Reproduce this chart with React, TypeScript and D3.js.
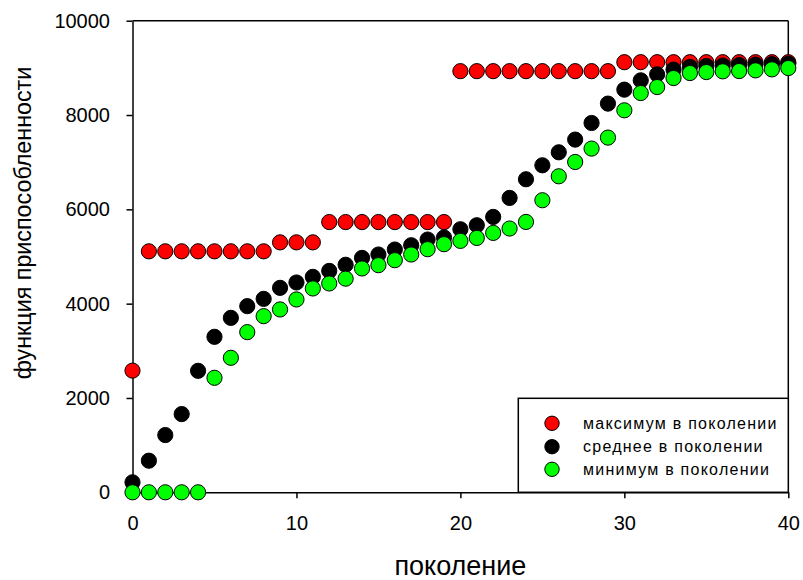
import * as d3 from 'd3'
import { useEffect, useRef } from 'react'

const generations = d3.range(0, 41)

const maxFitness = [
    2580, 5110, 5110, 5110, 5110, 5110, 5110, 5110, 5110, 5300,
    5300, 5300, 5730, 5730, 5730, 5730, 5730, 5730, 5730, 5730,
    8930, 8930, 8930, 8930, 8930, 8930, 8930, 8930, 8930, 8930,
    9120, 9120, 9120, 9120, 9120, 9120, 9120, 9120, 9120, 9120, 9120,
]

const meanFitness = [
    212, 670, 1214, 1659, 2576, 3297, 3699, 3947, 4102, 4335,
    4449, 4568, 4695, 4825, 4970, 5042, 5148, 5239, 5360, 5402,
    5578, 5663, 5839, 6242, 6638, 6934, 7210, 7479, 7831, 8242,
    8538, 8735, 8862, 8962, 9020, 9040, 9050, 9060, 9070, 9080, 9090,
]

const minFitness = [
    0, 0, 0, 0, 0, 2428, 2852, 3396, 3735, 3877,
    4089, 4322, 4428, 4530, 4746, 4816, 4922, 5042, 5155, 5261,
    5331, 5394, 5500, 5593, 5733, 6193, 6701, 7004, 7288, 7521,
    8100, 8466, 8593, 8784, 8890, 8911, 8926, 8932, 8947, 8968, 8996,
]

const xTicks = [0, 10, 20, 30, 40]
const yTicks = [0, 2000, 4000, 6000, 8000, 10000]

const seriesNames = ['максимум в поколении', 'среднее в поколении', 'минимум в поколении']
const seriesColors = ['#ff0000', '#000000', '#00ff00']

const App = () => {
    const svgRef = useRef<SVGSVGElement>(null)

    useEffect(() => {
        const width = 803
        const height = 580
        const font = '"Liberation Sans", Arial, sans-serif'

        const svg = d3.select(svgRef.current)
            .html('')
            .attr('width', width)
            .attr('height', height)
            .style('font-family', font)

        const x = d3.scaleLinear().domain([0, 40]).range([132.5, 788.3])
        const y = d3.scaleLinear().domain([0, 10000]).range([492.3, 20.7])

        // frame lines (top and right)
        svg.append('line')
            .attr('x1', x(0)).attr('x2', x(40))
            .attr('y1', y(10000)).attr('y2', y(10000))
            .attr('stroke', '#000').attr('stroke-width', 1.5)
        svg.append('line')
            .attr('x1', x(40)).attr('x2', x(40))
            .attr('y1', y(10000)).attr('y2', y(0))
            .attr('stroke', '#000').attr('stroke-width', 1.5)

        const yAxis = svg.append('g')
            .attr('transform', `translate(${x(0)},0)`)
            .call(d3.axisLeft(y).tickValues(yTicks).tickSize(6).tickSizeOuter(0).tickPadding(16.5).tickFormat(d3.format('d')))
        const xAxis = svg.append('g')
            .attr('transform', `translate(0,${y(0)})`)
            .call(d3.axisBottom(x).tickValues(xTicks).tickSize(6).tickSizeOuter(0).tickPadding(18).tickFormat(d3.format('d')))

        for (const ax of [xAxis, yAxis]) {
            ax.select('.domain').attr('stroke-width', 1.5)
            ax.selectAll('.tick line').attr('stroke-width', 1.5)
            ax.selectAll('.tick text')
                .style('font-family', font)
                .style('font-size', '20px')
                .attr('fill', '#000')
        }

        // legend box
        const legend = svg.append('g')
        legend.append('rect')
            .attr('x', 518.3).attr('y', 398.3)
            .attr('width', x(40) - 518.3).attr('height', y(0) - 398.3)
            .attr('fill', '#fff')
            .attr('stroke', '#000').attr('stroke-width', 1.5)

        const legendY = [423.3, 446.7, 469.3]
        seriesNames.forEach((name, i) => {
            legend.append('circle')
                .attr('cx', 552).attr('cy', legendY[i]).attr('r', 7.2)
                .attr('fill', seriesColors[i])
                .attr('stroke', '#000').attr('stroke-width', 1)
            legend.append('text')
                .attr('x', 583).attr('y', legendY[i])
                .attr('dy', '0.35em')
                .style('font-size', '16px')
                .style('letter-spacing', '1.25px')
                .attr('fill', '#000')
                .text(name)
        })

        // points: max, mean, min
        const allSeries = [maxFitness, meanFitness, minFitness]
        allSeries.forEach((values, i) => {
            svg.append('g')
                .selectAll('circle')
                .data(generations)
                .join('circle')
                .attr('cx', d => x(d))
                .attr('cy', d => y(values[d]))
                .attr('r', 7.6)
                .attr('fill', seriesColors[i])
                .attr('stroke', '#000')
                .attr('stroke-width', 1)
        })

        // axis titles
        svg.append('text')
            .attr('x', (x(0) + x(40)) / 2)
            .attr('y', 575)
            .attr('text-anchor', 'middle')
            .style('font-size', '27px')
            .attr('fill', '#000')
            .text('поколение')

        svg.append('text')
            .attr('transform', `translate(31,223) rotate(-90)`)
            .attr('text-anchor', 'middle')
            .style('font-size', '23.3px')
            .attr('fill', '#000')
            .text('функция приспособленности')
    }, [])

    return (
        <svg ref={svgRef} style={{ position: 'absolute', left: 0, top: 0 }}></svg>
    )
}

export default App
